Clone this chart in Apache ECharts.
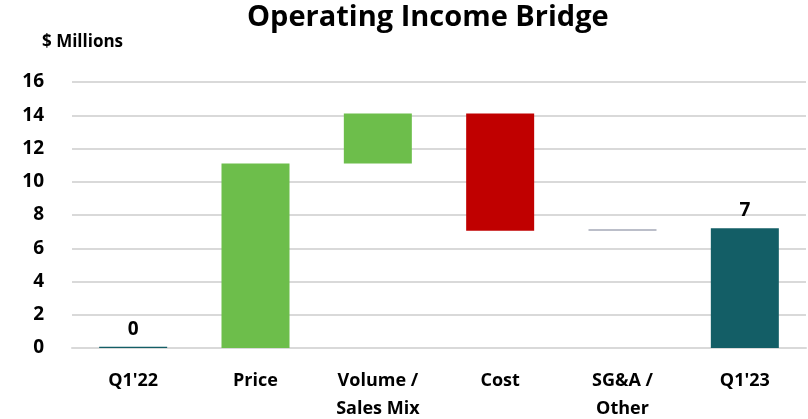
<!DOCTYPE html>
<html>
<head>
<meta charset="utf-8">
<script src="https://cdn.jsdelivr.net/npm/echarts@6/dist/echarts.min.js"></script>
<style>
html, body { margin: 0; padding: 0; background: #fff; }
#chart { width: 808px; height: 419px; }
</style>
</head>
<body>
<div id="chart"></div>
<script>
var categories = ['Q1\'22', 'Price', 'Volume /\nSales Mix', 'Cost', 'SG&A /\nOther', 'Q1\'23'];
// invisible base of each step
var baseValues = [0, 0, 11.1, 7.05, 7.05, 0];
// visible height of each step
var stepValues = [0.08, 11.1, 3.0, 7.05, 0.1, 7.2];
var stepColors = ['#135E66', '#6DBE4B', '#6DBE4B', '#C00000', '#A5A9B7', '#135E66'];
var stepLabels = ['0', '', '', '', '', '7'];
var yTicks = [0, 2, 4, 6, 8, 10, 12, 14, 16];

var font = '"Open Sans", Lato, sans-serif';
var chart = echarts.init(document.getElementById('chart'));

chart.setOption({
    animation: false,
    title: {
        text: 'Operating Income Bridge',
        left: 242,
        top: -2,
        textStyle: { fontFamily: font, fontSize: 29, fontWeight: 'bold', color: '#000' }
    },
    graphic: [{
        type: 'text',
        left: 42,
        top: 34,
        style: { text: '$ Millions', font: 'bold 17px ' + font, fill: '#000' }
    }],
    grid: { left: 72, right: 2, top: 82, bottom: 71, outerBoundsMode: 'none' },
    xAxis: {
        type: 'category',
        data: categories,
        axisTick: { show: false },
        axisLine: { lineStyle: { color: '#d9d9d9', width: 2 } },
        axisLabel: {
            color: '#000', fontFamily: font, fontWeight: 'bold', fontSize: 18,
            lineHeight: 28, margin: 19
        }
    },
    yAxis: {
        type: 'value',
        min: 0,
        max: 16,
        interval: 2,
        axisLine: { show: false },
        axisTick: { show: false },
        splitLine: { lineStyle: { color: '#d9d9d9', width: 2 } },
        axisLabel: {
            color: '#000', fontFamily: font, fontWeight: 'bold', fontSize: 19, margin: 28,
            formatter: function (v) { return yTicks.indexOf(v) >= 0 ? String(v) : ''; }
        }
    },
    series: [{
        type: 'bar',
        stack: 'bridge',
        barWidth: 68,
        itemStyle: { color: 'transparent' },
        silent: true,
        data: baseValues
    }, {
        type: 'bar',
        stack: 'bridge',
        barWidth: 68,
        data: stepValues.map(function (v, i) {
            return { value: v, itemStyle: { color: stepColors[i] } };
        }),
        label: {
            show: true,
            position: 'top',
            distance: 8,
            color: '#000',
            fontFamily: font,
            fontWeight: 'bold',
            fontSize: 19,
            formatter: function (p) { return stepLabels[p.dataIndex]; }
        }
    }]
});
</script>
</body>
</html>
